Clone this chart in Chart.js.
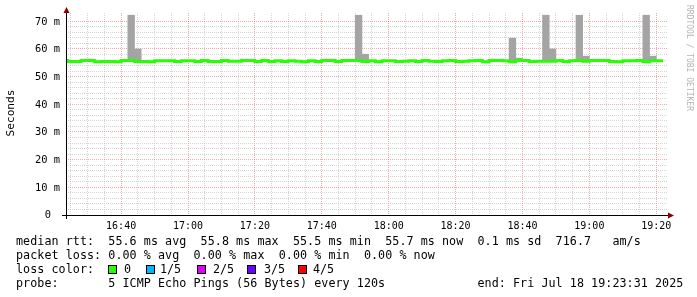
<!DOCTYPE html>
<html>
<head>
<meta charset="utf-8">
<script src="https://cdn.jsdelivr.net/npm/chart.js"></script>
<style>
html, body { margin: 0; padding: 0; background: #fff; }
#wrap { width: 697px; height: 297px; position: relative; }
</style>
</head>
<body>
<div id="wrap"><canvas id="c" width="697" height="297"></canvas></div>
<script>
// time axis in minutes after 16:00, window 16:23:31 .. 19:23:31
const viewStart = 23 + 31 / 60;
const viewEnd = viewStart + 180;
const firstSlot = 22;          // 16:22
const stepMin = 2;             // probe every 120s

// median rtt (ms) per 2-minute slot
const medianRtt = [
  55.8, 55.8, 55.5, 55.5, 55.8, 55.8, 55.4, 55.5, 55.5, 55.4,
  55.8, 55.8, 55.5, 55.5, 55.4, 55.7, 55.7, 55.7, 55.5, 55.7,
  55.7, 55.5, 55.8, 55.5, 55.5, 55.8, 55.6, 55.6, 55.8, 55.8,
  55.5, 55.8, 55.5, 55.7, 55.5, 55.7, 55.6, 55.4, 55.7, 55.5,
  55.8, 55.8, 55.5, 55.8, 55.8, 55.8, 55.5, 55.7, 55.4, 55.7,
  55.7, 55.5, 55.6, 55.7, 55.5, 55.8, 55.6, 55.5, 55.7, 55.8,
  55.5, 55.6, 55.7, 55.8, 55.4, 55.8, 55.8, 55.7, 55.4, 55.8,
  55.8, 55.5, 55.6, 55.6, 55.6, 55.8, 55.5, 55.7, 55.8, 55.6,
  55.8, 55.8, 55.8, 55.5, 55.4, 55.7, 55.7, 55.8, 55.4, 55.7
];

// smoke (spread of the pings) where it shows above the median
const smokeSlots = ['16:42', '16:44', '17:50', '17:52', '18:36', '18:38', '18:46', '18:48', '18:56', '18:58', '19:16', '19:18'];
const smokeTop = [72.2, 60.0, 72.2, 58.1, 63.9, 56.7, 72.2, 60.0, 72.2, 57.4, 72.2, 57.4];

const timeLabels = ['16:40', '17:00', '17:20', '17:40', '18:00', '18:20', '18:40', '19:00', '19:20'];
const yLabels = ['0', '10 m', '20 m', '30 m', '40 m', '50 m', '60 m', '70 m'];

const lossLabels = ['0', '1/5', '2/5', '3/5', '4/5'];
const lossColors = ['#26ff00', '#00b8ff', '#dd00ff', '#6a00ff', '#ff0000'];

function toMin(s) {
  const p = s.split(':');
  return (+p[0] - 16) * 60 + (+p[1]);
}
function fmtMin(v) {
  const h = 16 + Math.floor(v / 60), m = v % 60;
  return h + ':' + (m < 10 ? '0' : '') + m;
}

// build line points (stepped, each slot holds its value)
const medianPts = medianRtt.map((v, i) => ({ x: firstSlot + i * stepMin, y: v }));
medianPts.push({ x: firstSlot + medianRtt.length * stepMin, y: medianRtt[medianRtt.length - 1] });

const smokePts = smokeSlots.map((s, i) => {
  const m = toMin(s);
  const idx = (m - firstSlot) / stepMin;
  return { x: m + stepMin / 2, y: [medianRtt[idx], smokeTop[i]] };
});

const MONO = '"DejaVu Sans Mono", monospace';

// draw a text line on a fixed character grid (rrdtool legend style)
function gridText(ctx, line, y) {
  const colW = 7.1;
  for (let i = 0; i < line.length; i++) {
    if (line[i] !== ' ') ctx.fillText(line[i], 16 + i * colW, y);
  }
}

const decor = {
  id: 'decor',
  afterDraw(chart) {
    const ctx = chart.ctx;
    const area = chart.chartArea;
    const ys = chart.scales.y;
    ctx.save();

    // axes
    ctx.strokeStyle = '#000';
    ctx.lineWidth = 1;
    ctx.beginPath();
    ctx.moveTo(area.left + 0.5, 219);
    ctx.lineTo(area.left + 0.5, 10);
    ctx.moveTo(62, area.bottom + 0.5);
    ctx.lineTo(670, area.bottom + 0.5);
    ctx.stroke();
    ctx.fillStyle = '#8b0000';
    ctx.beginPath();
    ctx.moveTo(area.left + 0.5, 7);
    ctx.lineTo(area.left - 2.5, 13);
    ctx.lineTo(area.left + 3.5, 13);
    ctx.closePath();
    ctx.fill();
    ctx.beginPath();
    ctx.moveTo(674, area.bottom + 0.5);
    ctx.lineTo(668, area.bottom - 2.5);
    ctx.lineTo(668, area.bottom + 3.5);
    ctx.closePath();
    ctx.fill();

    // y labels
    ctx.fillStyle = '#000';
    ctx.font = '10.4px ' + MONO;
    ctx.textBaseline = 'middle';
    ctx.textAlign = 'right';
    yLabels.forEach((t, k) => {
      const y = ys.getPixelForValue(k * 10);
      ctx.fillText(t, k === 0 ? 51 : 60, y + 0.5);
    });

    // axis title
    ctx.save();
    ctx.font = '11.2px ' + MONO;
    ctx.textAlign = 'center';
    ctx.translate(11, 113);
    ctx.rotate(-Math.PI / 2);
    ctx.fillText('Seconds', 0, 0);
    ctx.restore();

    // watermark
    ctx.save();
    ctx.font = '8px ' + MONO;
    ctx.fillStyle = '#b4b4b4';
    ctx.textAlign = 'left';
    ctx.translate(689, 5);
    ctx.rotate(Math.PI / 2);
    ctx.fillText('RRDTOOL / TOBI OETIKER', 0, 0);
    ctx.restore();

    // legend block
    ctx.font = '11.7px ' + MONO;
    ctx.textAlign = 'left';
    ctx.textBaseline = 'alphabetic';
    ctx.fillStyle = '#000';
    gridText(ctx, 'median rtt:  55.6 ms avg  55.8 ms max  55.5 ms min  55.7 ms now  0.1 ms sd  716.7   am/s', 245);
    gridText(ctx, 'packet loss: 0.00 % avg  0.00 % max  0.00 % min  0.00 % now', 259);
    gridText(ctx, 'loss color:', 273);
    const boxX = [108, 146, 197, 247, 298];
    const txtX = [124, 160, 213, 264, 313];
    lossLabels.forEach((t, k) => {
      ctx.fillStyle = lossColors[k];
      ctx.fillRect(boxX[k], 265, 8, 8);
      ctx.strokeStyle = '#000';
      ctx.strokeRect(boxX[k] + 0.5, 265.5, 8, 8);
      ctx.fillStyle = '#000';
      ctx.fillText(t, txtX[k], 273);
    });
    gridText(ctx, 'probe:       5 ICMP Echo Pings (56 Bytes) every 120s             end: Fri Jul 18 19:23:31 2025', 287);
    ctx.restore();
  }
};

const minorGrid = 'rgba(185,185,185,0.6)';
const majorGrid = 'rgba(225,100,100,0.55)';

new Chart(document.getElementById('c'), {
  type: 'line',
  data: {
    datasets: [
      {
        type: 'line',
        label: 'median rtt',
        data: medianPts,
        stepped: 'after',
        borderColor: '#26ff00',
        borderWidth: 3,
        borderJoinStyle: 'miter',
        borderCapStyle: 'butt',
        pointRadius: 0,
        fill: false,
        order: 0
      },
      {
        type: 'bar',
        label: 'smoke',
        data: smokePts,
        backgroundColor: '#a4a4a4',
        borderWidth: 0,
        categoryPercentage: 1,
        barPercentage: 1,
        order: 1
      }
    ]
  },
  options: {
    responsive: false,
    animation: false,
    events: [],
    layout: { padding: { top: 13, right: 29, bottom: 0, left: 0 } },
    plugins: { legend: { display: false }, tooltip: { enabled: false }, title: { display: false } },
    scales: {
      x: {
        type: 'linear',
        min: viewStart,
        max: viewEnd,
        offset: false,
        afterFit(s) { s.height = 82; },
        afterBuildTicks(s) {
          const t = [];
          for (let v = 25; v <= 200; v += 5) t.push({ value: v });
          s.ticks = t;
        },
        grid: {
          offset: false,
          drawTicks: false,
          color: c => (c.tick && c.tick.value % 20 === 0) ? majorGrid : minorGrid
        },
        border: { display: false, dash: [1, 1] },
        ticks: {
          autoSkip: false,
          maxRotation: 0,
          padding: 5,
          color: '#000',
          font: { family: MONO, size: 10 },
          callback: v => timeLabels.includes(fmtMin(v)) ? fmtMin(v) : ''
        }
      },
      y: {
        min: 0,
        max: 73,
        afterFit(s) { s.width = 66; },
        afterBuildTicks(s) {
          s.ticks = s.ticks.filter(t => t.value % 2 === 0);
        },
        grid: {
          drawTicks: false,
          color: c => (c.tick && c.tick.value % 10 === 0) ? majorGrid : minorGrid
        },
        border: { display: false, dash: [1, 1] },
        ticks: { display: false, stepSize: 2 }
      }
    }
  },
  plugins: [decor]
});
</script>
</body>
</html>
